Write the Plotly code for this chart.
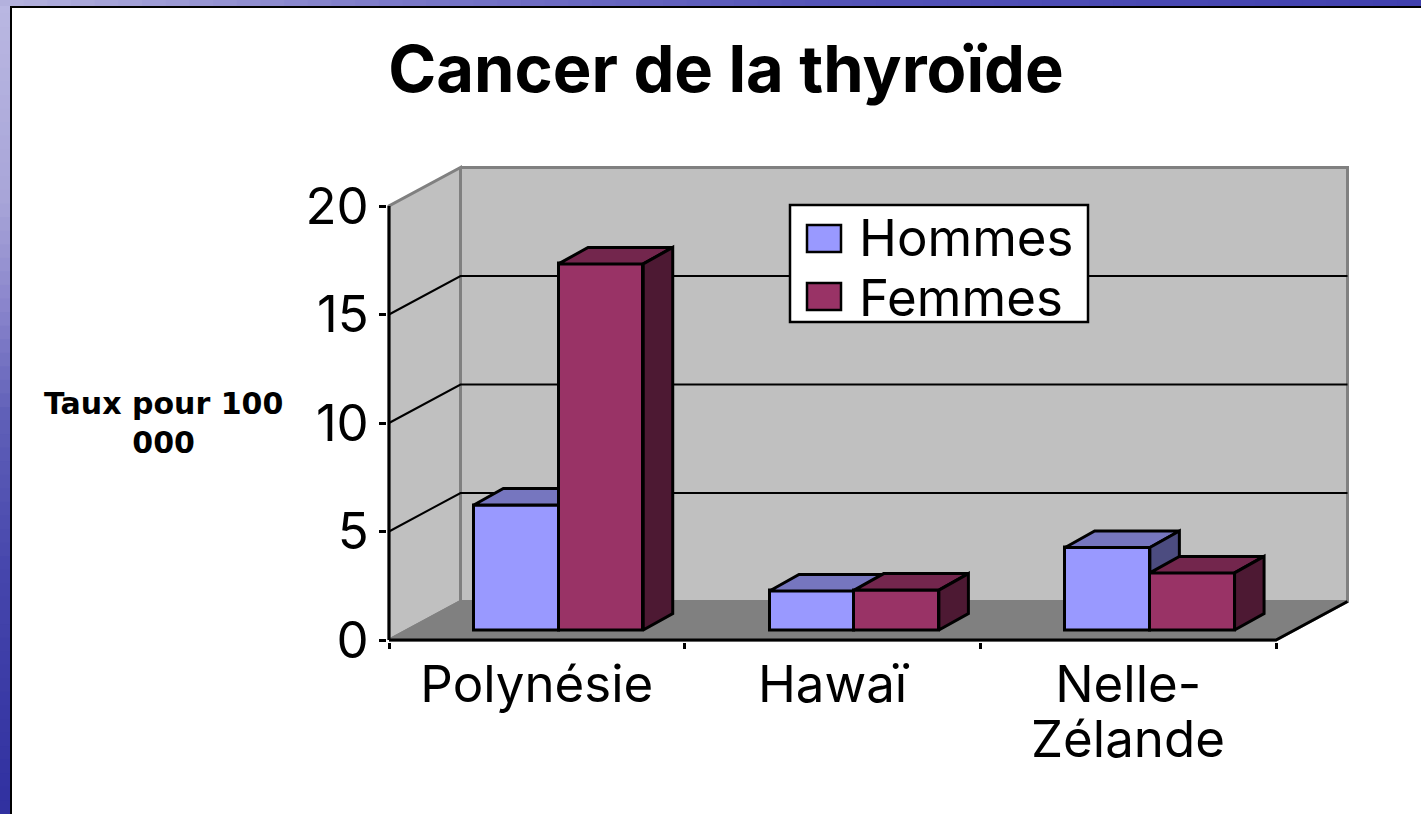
import plotly.graph_objects as go

title = "Cancer de la thyroïde"
y_title = "Taux pour 100<br>000"
categories = ["Polynésie", "Hawaï", "Nelle-Zélande"]
tick_text = ["Polynésie", "Hawaï", "Nelle-"]
tick_text_line2 = "Zélande"
y_ticks = [0, 5, 10, 15, 20]
hommes = [5.76, 1.8, 3.8]
femmes = [16.87, 1.84, 2.63]
series_names = ["Hommes", "Femmes"]

W, H = 1421, 814
X0, X1 = 389, 1276
Y0, Y20 = 640, 206
px_x = (X1 - X0) / 3
px_y = (Y0 - Y20) / 20
DX, DY = 71.5 / px_x, 38.5 / px_y
BAR_BASE = 10 / px_y
BAR_W = 84.7 / px_x
OFF_H = -63 / px_x
OFF_F = 21.7 / px_x
BDX, BDY = 29.5 / px_x, 16.5 / px_y
FONT = "Inter"
BLACK = "#000000"
PAD_X, PAD_Y = 3 / px_x, 3 / px_y
PAD_L, PAD_B = 2 / px_x, 2 / px_y


def lerp_color(stops, t):
    for (t0, c0), (t1, c1) in zip(stops, stops[1:]):
        if t <= t1:
            f = (t - t0) / (t1 - t0)
            rgb = [round(c0[i] + (c1[i] - c0[i]) * f) for i in range(3)]
            return "rgb({},{},{})".format(*rgb)
    return "rgb({},{},{})".format(*stops[-1][1])


top_stops = [(0, (181, 179, 222)), (400 / W, (122, 120, 200)), (800 / W, (85, 85, 184)), (1, (64, 64, 174))]
left_stops = [(0, (186, 184, 226)), (200 / H, (168, 165, 216)), (300 / H, (140, 135, 205)),
              (415 / H, (96, 96, 184)), (571 / H, (70, 70, 172)), (1, (48, 48, 160))]

shapes = []
N = 60
for i in range(N):
    shapes.append(dict(type="rect", xref="paper", yref="paper", layer="below", line_width=0,
                       x0=0, x1=10 / W, y0=1 - i / N, y1=max(0, 1 - (i + 1.5) / N),
                       fillcolor=lerp_color(left_stops, (i + 0.5) / N)))
    shapes.append(dict(type="rect", xref="paper", yref="paper", layer="below", line_width=0,
                       x0=i / N, x1=min(1, (i + 1.5) / N), y0=1, y1=1 - 6 / H,
                       fillcolor=lerp_color(top_stops, (i + 0.5) / N)))
shapes.append(dict(type="rect", xref="paper", yref="paper", layer="below", line_width=0,
                   x0=10 / W, x1=1, y0=1 - 6 / H, y1=1 - 8 / H, fillcolor=BLACK))
shapes.append(dict(type="rect", xref="paper", yref="paper", layer="below", line_width=0,
                   x0=10 / W, x1=12 / W, y0=1 - 6 / H, y1=0, fillcolor=BLACK))


def poly(xs, ys, fill, axis, line_color=BLACK, width=3):
    return go.Scatter(x=xs + xs[:1], y=ys + ys[:1], xaxis=axis, yaxis="y", mode="lines",
                      fill="toself", fillcolor=fill, line=dict(color=line_color, width=width),
                      cliponaxis=False, showlegend=False, hoverinfo="skip")


def line(xs, ys, width, color=BLACK):
    return go.Scatter(x=xs, y=ys, xaxis="x", yaxis="y", mode="lines", line=dict(color=color, width=width),
                      cliponaxis=False, showlegend=False, hoverinfo="skip")


fig = go.Figure()
L, R = -0.5, 2.5
# Walls and floor
WALL = "#c0c0c0"
EDGE = "#808080"
fig.add_trace(poly([L, L, L + DX, L + DX], [0, 20, 20 + DY, DY], WALL, "x", EDGE, 3))
fig.add_trace(poly([L + DX, R + DX, R + DX, L + DX], [20 + DY, 20 + DY, DY, DY], WALL, "x", EDGE, 3))
fig.add_trace(poly([L, R, R + DX, L + DX], [0, 0, DY, DY], "#808080", "x", EDGE, 3))
# Gridlines
gx, gy = [], []
for v in y_ticks[1:-1]:
    gx += [L, L + DX, R + DX, None]
    gy += [v, v + DY, v + DY, None]
fig.add_trace(line(gx, gy, 2))
# Axis lines and the floor's right edge
fig.add_trace(line([L, L], [0, 20], 3))
fig.add_trace(line([L, R, R + DX], [0, 0, DY], 3))


def add_series(values, offset, name, front, top, side, axis):
    for i, v in enumerate(values):
        x0 = i + offset
        x1 = x0 + BAR_W
        yt = BAR_BASE + v
        fig.add_trace(poly([x0, x1, x1 + BDX, x0 + BDX], [yt, yt, yt + BDY, yt + BDY], top, axis))
        fig.add_trace(poly([x1, x1 + BDX, x1 + BDX, x1], [BAR_BASE, BAR_BASE + BDY, yt + BDY, yt], side, axis))
    fig.add_trace(go.Bar(x=[0, 1, 2], y=values, base=BAR_BASE, offset=offset, width=BAR_W, name=name,
                         xaxis=axis, yaxis="y", marker=dict(color=front, line=dict(color=BLACK, width=3)),
                         customdata=categories, showlegend=False, cliponaxis=False))


add_series(hommes, OFF_H, series_names[0], "#9999ff", "#7676bf", "#4c4c80", "x2")
add_series(femmes, OFF_F, series_names[1], "#993366", "#73264d", "#4d1933", "x3")

# Legend
legend_rows = [(series_names[0], "#9999ff", 225, 252, 238), (series_names[1], "#993366", 283, 310, 297)]
shapes.append(dict(type="rect", xref="paper", yref="paper", layer="above", fillcolor="#ffffff",
                   line=dict(color=BLACK, width=2.5), x0=790 / W, x1=1088 / W, y0=1 - 205 / H, y1=1 - 322 / H))
annotations = []
for name, color, t, b, mid in legend_rows:
    shapes.append(dict(type="rect", xref="paper", yref="paper", layer="above", fillcolor=color,
                       line=dict(color=BLACK, width=2.5), x0=807 / W, x1=841 / W, y0=1 - t / H, y1=1 - b / H))
    annotations.append(dict(text=name, xref="paper", yref="paper", x=857 / W, y=1 - mid / H, xanchor="left",
                            yanchor="middle", showarrow=False, font=dict(family=FONT, size=51, color=BLACK)))
annotations.append(dict(text="<b>" + y_title + "</b>", xref="paper", yref="paper", x=163 / W, y=1 - 423 / H,
                        xanchor="center", yanchor="middle", showarrow=False, align="center",
                        font=dict(family="DejaVu Sans", size=30, color=BLACK)))
annotations.append(dict(text=tick_text_line2, xref="x", yref="paper", x=2, y=1 - 738 / H, xanchor="center",
                        yanchor="middle", showarrow=False, font=dict(family=FONT, size=51, color=BLACK)))

x_lo = L - PAD_L
x_top = R + DX + PAD_X
y_lo = -PAD_B
y_top = 20 + DY + PAD_Y
axis_common = dict(range=[x_lo, x_top],
                   domain=[(X0 - PAD_L * px_x) / W, (X0 + (x_top - L) * px_x) / W])
fig.update_layout(
    width=W, height=H, margin=dict(l=0, r=0, t=0, b=0, pad=0),
    paper_bgcolor="#ffffff", plot_bgcolor="rgba(0,0,0,0)", barmode="overlay", bargap=0,
    title=dict(text="<b>" + title + "</b>", x=726 / W, xanchor="center", y=1 - 69 / H, yanchor="middle",
               font=dict(family=FONT, size=65, color=BLACK), automargin=False),
    xaxis=dict(**axis_common, automargin=False, tickmode="array", tickvals=[0, 1, 2], ticktext=tick_text, ticks="",
               showgrid=False, zeroline=False, showline=False, ticklabelstandoff=8,
               tickfont=dict(family=FONT, size=51, color=BLACK),
               minor=dict(tickmode="array", tickvals=[-0.5, 0.5, 1.5, 2.5], ticks="outside", ticklen=6,
                          tickwidth=2.5, tickcolor=BLACK, showgrid=False)),
    xaxis2=dict(**axis_common, overlaying="x", visible=False),
    xaxis3=dict(**axis_common, overlaying="x", visible=False),
    yaxis=dict(automargin=False, domain=[1 - (Y0 + PAD_B * px_y) / H, 1 - (Y0 - y_top * px_y) / H],
               range=[y_lo, y_top], tickmode="array",
               tickvals=y_ticks, ticks="outside", ticklen=7, tickwidth=2.5, tickcolor=BLACK, showgrid=False,
               zeroline=False, showline=False, ticklabelstandoff=0,
               tickfont=dict(family=FONT, size=51, color=BLACK)),
    shapes=shapes, annotations=annotations, showlegend=False,
)
fig.write_html("out.html", config={"displayModeBar": False},
               post_script="document.body.style.margin='0';document.body.style.overflow='hidden';")
